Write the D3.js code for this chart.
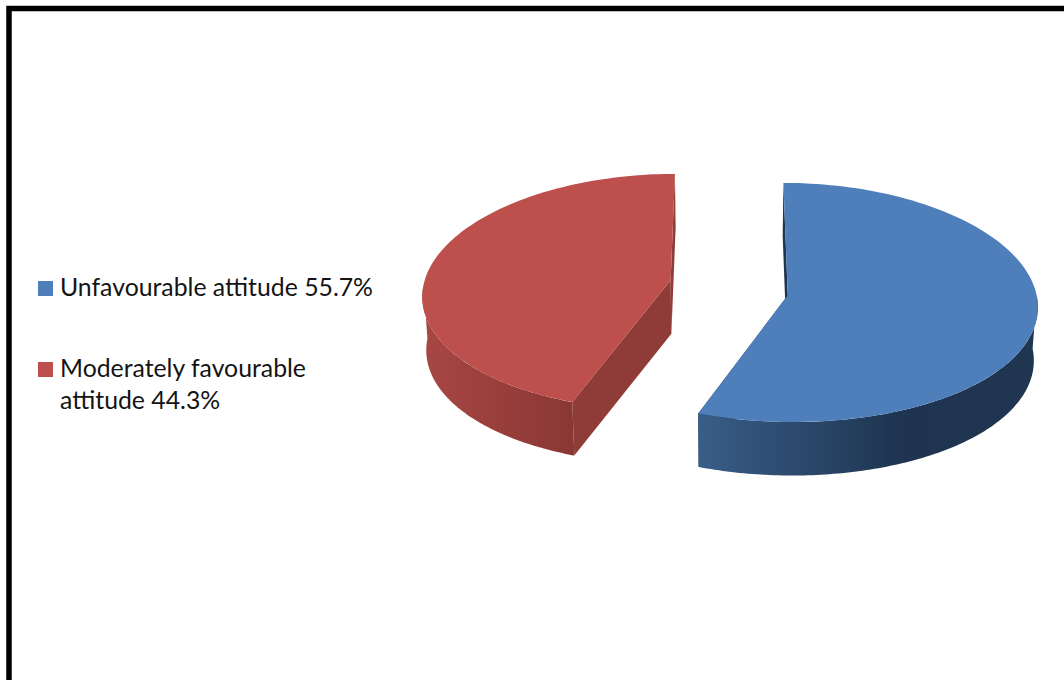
<!DOCTYPE html>
<html>
<head>
<meta charset="utf-8">
<script src="https://cdnjs.cloudflare.com/ajax/libs/d3/7.8.5/d3.min.js"></script>
<style>
  html, body { margin: 0; padding: 0; background: #fff; overflow: hidden; }
  svg { display: block; }
  text { font-family: Lato, "Open Sans", sans-serif; fill: #141414; }
</style>
</head>
<body>
<svg id="chart" width="1064" height="680"></svg>
<script>
const categories = ["Unfavourable attitude", "Moderately favourable attitude"];
const percentages = [55.7, 44.3];
const topColours = ["#4e7fbb", "#bd4f4c"];
const cutColours = ["#1e3450", "#8f3b37"];

const svg = d3.select("#chart");
const W = 1064, H = 680;

// Frame: only the left and top rules reach into the canvas
svg.append("path")
  .attr("d", `M9 ${H}V8.5H${W}`)
  .attr("fill", "none")
  .attr("stroke", "#000")
  .attr("stroke-width", 5.5);

// Perspective model for the tilted, exploded pie
const view = { x0: 729, y0: 290.2, radius: 248, squash: 118.5, perspX: 0.08, perspY: 0.06, explode: 0.24, depth: 53.5, floor: 0.987 };
const apexLift = [0, 5];

function project(theta, r, mid, lower) {
  const u = Math.sin(mid) * view.explode + r * Math.sin(theta);
  const v = -Math.cos(mid) * view.explode - r * Math.cos(theta);
  const px = view.radius * u / (1 - view.perspX * v);
  const py = view.squash * v / (1 - view.perspY * v);
  return lower
    ? [view.x0 + px * view.floor, view.y0 + py + view.depth]
    : [view.x0 + px, view.y0 + py];
}

function apex(i, mid, lower) {
  const [x, y] = project(0, 0, mid, lower);
  return [x, y - apexLift[i]];
}

const slices = d3.pie().sort(null).value(d => d)(percentages);
const line = d3.line();
const rim = (a, b, mid, lower) =>
  d3.range(0, 121).map(i => project(a + (b - a) * i / 120, 1, mid, lower));

const defs = svg.append("defs");
const sideStops = [
  { id: "sideBlue", x1: 701, x2: 1037, stops: [[0, "#385d87"], [0.6, "#1e3450"], [1, "#1f3550"]] },
  { id: "sideRed", x1: 423, x2: 572, stops: [[0, "#a84744"], [1, "#8a3734"]] }
];
sideStops.forEach(g => {
  const lg = defs.append("linearGradient").attr("id", g.id)
    .attr("gradientUnits", "userSpaceOnUse")
    .attr("x1", g.x1).attr("x2", g.x2).attr("y1", 0).attr("y2", 0);
  g.stops.forEach(s => lg.append("stop").attr("offset", s[0]).attr("stop-color", s[1]));
});

// The outer wall is only visible on the arc that faces the viewer
const wallRange = [
  s => [Math.PI / 2, s.endAngle],
  s => [s.startAngle, Math.PI * 1.5]
];

const pieGroup = svg.append("g");
slices.slice().reverse().forEach(s => {
  const i = s.index;
  const mid = (s.startAngle + s.endAngle) / 2;
  const g = pieGroup.append("g");

  [s.startAngle, s.endAngle].forEach(a => {
    g.append("path")
      .attr("d", line([project(a, 1, mid), apex(i, mid), apex(i, mid, true), project(a, 1, mid, true)]) + "Z")
      .attr("fill", cutColours[i]);
  });

  const [wa, wb] = wallRange[i](s);
  g.append("path")
    .attr("d", line(rim(wa, wb, mid).concat(rim(wa, wb, mid, true).reverse())) + "Z")
    .attr("fill", `url(#${sideStops[i].id})`);

  g.append("path")
    .attr("d", line([apex(i, mid)].concat(rim(s.startAngle, s.endAngle, mid))) + "Z")
    .attr("fill", topColours[i]);
});

// Legend
const legendLines = [
  [`${categories[0]} ${percentages[0]}%`],
  ["Moderately favourable", `attitude ${percentages[1]}%`]
];
const legendBaselines = [296, 377];
const legend = svg.append("g");
legendLines.forEach((lines, i) => {
  legend.append("rect")
    .attr("x", 38).attr("y", legendBaselines[i] - 15)
    .attr("width", 15).attr("height", 15)
    .attr("fill", topColours[i]);
  lines.forEach((t, j) => {
    legend.append("text")
      .attr("x", 60)
      .attr("y", legendBaselines[i] + j * 32)
      .attr("font-size", 24.8)
      .text(t);
  });
});
</script>
</body>
</html>
